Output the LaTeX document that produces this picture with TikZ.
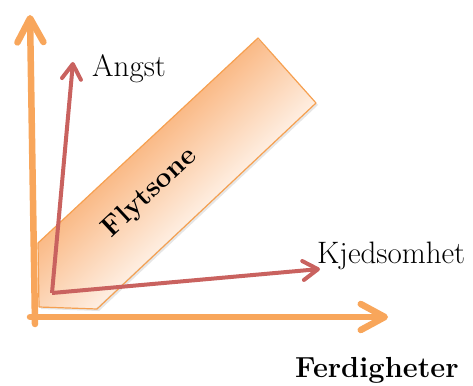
\documentclass[tikz,border=0pt]{standalone}
\usepackage{fontspec}
\usetikzlibrary{arrows.meta,shadows}
\definecolor{aksefarge}{RGB}{248,166,91}
\definecolor{pilfarge}{RGB}{201,98,95}
\definecolor{sonemork}{RGB}{250,186,135}
\definecolor{sonelys}{RGB}{254,238,225}
\definecolor{sonekant}{RGB}{246,160,80}
\tikzset{
  akse/.style={draw=aksefarge, line width=6.5pt, line cap=round,
    -{Straight Barb[length=24pt, width=26pt, line width=6.5pt, round]}},
  pil/.style={draw=pilfarge, line width=4pt,
    -{Straight Barb[length=15pt, width=19pt, line width=4pt, round]}},
  tekst/.style={font=\fontsize{31}{36}\selectfont, inner sep=0pt}
}
\def\sone{(38,243) -- (258,38) -- (316,103) -- (97,309) -- (39,307) -- cycle}
\begin{document}
\begin{tikzpicture}[x=1pt,y=-1pt]
  \useasboundingbox (0,0) rectangle (473,385);
  % flytsonen: skygge, fargeovergang, kant
  \path[drop shadow={opacity=0.2, shadow xshift=2pt, shadow yshift=-2pt}] \sone;
  \begin{scope}
    \clip \sone;
    \begin{scope}[transform canvas={shift={(287,70.5)}, rotate=43}]
      \shade[top color=sonemork, bottom color=sonelys] (-420,-43.5) rectangle (0,43.5);
    \end{scope}
  \end{scope}
  \draw[sonekant, line width=1.2pt, line join=round] \sone;
  \node[tekst, font=\fontsize{28}{33}\selectfont\bfseries, rotate=43] (flyt) at (150,193) {Flytsone};

  % aksene
  \coordinate (o) at (35,324);
  \coordinate (ytopp) at (30,15);
  \coordinate (hstart) at (30,317);
  \coordinate (xende) at (388,317);
  \draw[akse] (o) -- (ytopp);
  \draw[akse] (hstart) -- (xende);

  % angst og kjedsomhet
  \coordinate (start) at (52,293);
  \coordinate (atopp) at (73,62);
  \coordinate (kende) at (320,269);
  \draw[pil] (start) -- (atopp);
  \draw[pil] (start) -- (kende);

  \node[tekst, anchor=base west] (angst) at (92,77) {Angst};
  \node[tekst, anchor=base west] (kjed) at (317,263) {Kjedsomhet};
  \node[tekst, anchor=base west, font=\fontsize{29}{34}\selectfont\bfseries] (ferd) at (295,377) {Ferdigheter};
\end{tikzpicture}
\end{document}
